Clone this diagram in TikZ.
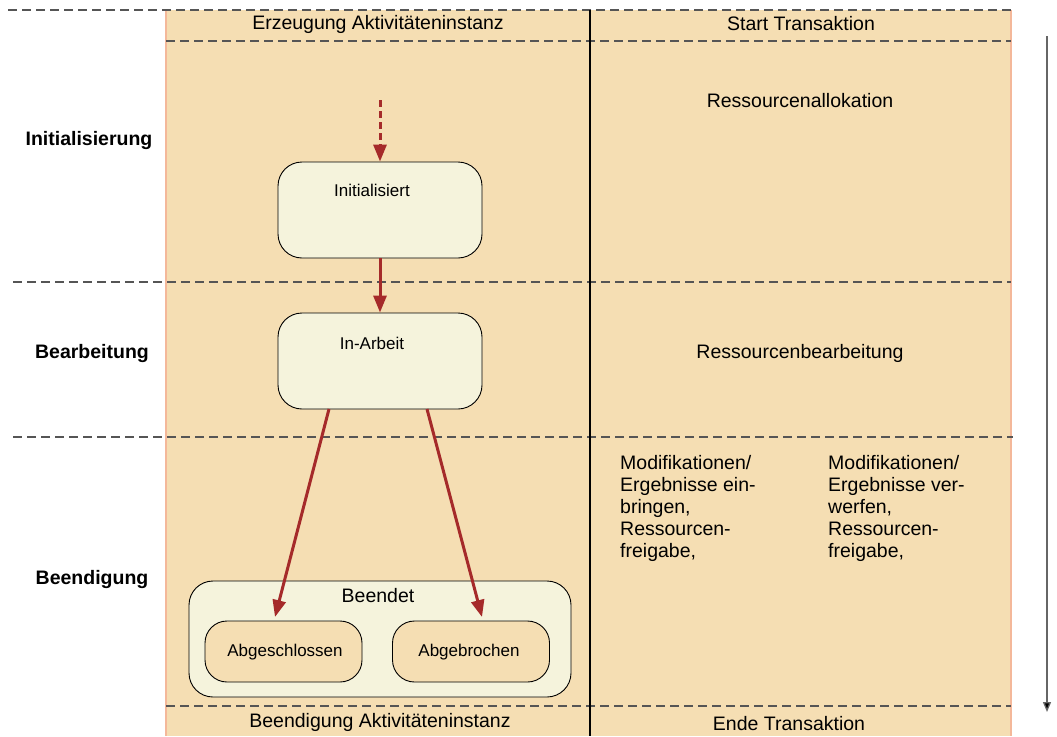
\documentclass[tikz,border=0pt]{standalone}
\usepackage{fontspec}
\setmainfont{Liberation Sans}
\usetikzlibrary{arrows.meta}
\definecolor{bgfill}{HTML}{F5DEB3}
\definecolor{bgedge}{HTML}{F4B89A}
\definecolor{boxfill}{HTML}{F5F3DC}
\definecolor{arrowred}{HTML}{A52A2A}
\definecolor{dashgray}{HTML}{555555}
\tikzset{
  sepline/.style={draw=dashgray, line width=1.3pt, dash pattern=on 9pt off 5pt},
  bigtxt/.style={font=\fontsize{19.5}{22}\selectfont, inner sep=0pt},
  phase/.style={font=\fontsize{19.5}{22}\selectfont\bfseries, inner sep=0pt},
  smalltxt/.style={font=\fontsize{17}{20}\selectfont, inner sep=0pt},
  statebox/.style={draw=black, line width=0.9pt, fill=boxfill, rounded corners=24pt, minimum width=204pt, minimum height=96pt, inner sep=0pt},
  subbox/.style={draw=black, line width=0.9pt, fill=bgfill, rounded corners=22pt, minimum width=157pt, minimum height=61pt, inner sep=0pt},
  trans/.style={draw=arrowred, line width=3pt, -{Triangle[length=17pt,width=13pt]}},
  textblock/.style={font=\fontsize{19.5}{22}\selectfont, inner sep=0pt, align=left, anchor=north west},
}
\begin{document}
\begin{tikzpicture}[x=1pt,y=-1pt]
\useasboundingbox (0,0) rectangle (1057,736);
% background
\fill[bgfill] (166,10) rectangle (1011,736);
\draw[bgedge, line width=1.2pt] (166,10) -- (166,736);
\draw[bgedge, line width=1.2pt] (1011,10) -- (1011,736);
% separators
\draw[sepline] (8,10) -- (1011,10);
\draw[sepline] (166,41) -- (1011,41);
\draw[sepline] (13,282) -- (1011,282);
\draw[sepline] (13,437) -- (1013,437);
\draw[sepline] (166,706) -- (1011,706);
% vertical divider
\draw[black, line width=2.2pt] (590,10) -- (590,736);
% time arrow
\coordinate (tstart) at (1047,36);
\coordinate (tend) at (1047,712);
\draw[draw=gray!80!black, line width=1.3pt, -{Triangle[length=10pt,width=8pt,fill=black]}] (tstart) -- (tend);
% header/footer labels
\node[bigtxt] (h1) at (378,24) {Erzeugung Aktivitäteninstanz};
\node[bigtxt] (h2) at (801,24) {Start Transaktion};
\node[bigtxt] (f1) at (380,722) {Beendigung Aktivitäteninstanz};
\node[bigtxt] (f2) at (789,724) {Ende Transaktion};
% phase labels
\node[phase] (p1) at (89,140) {Initialisierung};
\node[phase] (p2) at (92,353) {Bearbeitung};
\node[phase] (p3) at (92,579) {Beendigung};
% right column texts
\node[bigtxt] (r1) at (800,101) {Ressourcenallokation};
\node[bigtxt] (r2) at (800,353) {Ressourcenbearbeitung};
\node[textblock] (t1) at (620,455) {Modifikationen/\\Ergebnisse ein-\\bringen,\\Ressourcen-\\freigabe,};
\node[textblock] (t2) at (828,455) {Modifikationen/\\Ergebnisse ver-\\werfen,\\Ressourcen-\\freigabe,};
% states
\node[statebox] (init) at (380,210) {};
\node[smalltxt] (initl) at (372,190) {Initialisiert};
\node[statebox] (work) at (380,361) {};
\node[smalltxt] (workl) at (372,343) {In-Arbeit};
\node[statebox, minimum width=382pt, minimum height=116pt, rounded corners=24pt] (done) at (380,639) {};
\node[bigtxt] (donel) at (378,596) {Beendet};
\node[subbox] (ok) at (283.5,651.5) {};
\node[smalltxt] (okl) at (285,652) {Abgeschlossen};
\node[subbox] (abort) at (471,651.5) {};
\node[smalltxt] (abortl) at (469,652) {Abgebrochen};
% transitions
\coordinate (start) at (380,100);
\draw[trans, dash pattern=on 7pt off 4pt] (start) -- (init.north);
\draw[trans] (init.south) -- (work.north);
\coordinate (w1) at (329,409);
\coordinate (w2) at (427,409);
\coordinate (a1) at (275,617);
\coordinate (a2) at (482,617);
\draw[trans] (w1) -- (a1);
\draw[trans] (w2) -- (a2);
\end{tikzpicture}
\end{document}
